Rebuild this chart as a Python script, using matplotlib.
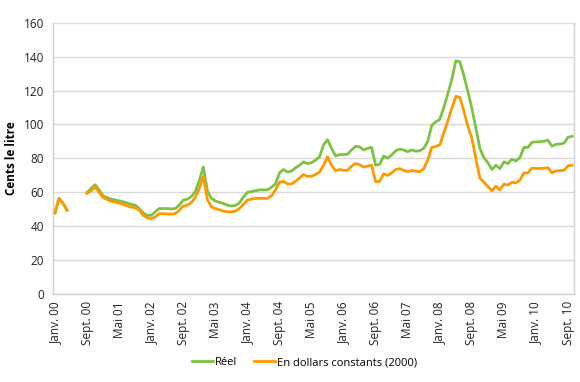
import numpy as np
import matplotlib
matplotlib.use("Agg")
import matplotlib.pyplot as plt

nan = np.nan
reel = [
    48, 56.5, 53.5, 49.5, nan, nan, nan, nan, 60, 62.3, 64.5, 61.5,
    58, 57, 56, 55.5, 55, 54.5, 53.8, 53, 52.5, 50.5, 48, 46.5,
    46.5, 48.5, 50.5, 50.5, 50.5, 50.3, 50.5, 52.5, 55.5, 56, 57.5, 60.5,
    67, 75, 61, 56.5, 55, 54.2, 53.5, 52.5, 52, 52.3, 53.8, 57.2,
    60, 60.5, 61, 61.5, 61.5, 61.5, 63, 65, 71.5, 73.5, 72, 72.5,
    74.5, 76, 78, 77, 77.5, 79, 81, 88, 91, 86, 81.5, 82.3,
    82.3, 82.5, 85, 87.2, 86.8, 85, 86, 86.5, 76, 76.5, 81.4, 80.2,
    82, 84.5, 85.5, 85, 84, 85, 84.3, 84.5, 86, 90, 99.5, 101.5,
    103, 110, 118, 126.5, 137.5, 137, 129, 119.5, 109.5, 98, 86, 80.5,
    77.5, 73.5, 76, 74, 78, 77, 79.5, 78.5, 80.5, 86.5, 86.5, 89.5,
    89.8, 89.8, 90.2, 90.7, 87.2, 88.3, 88.5, 89, 92.5, 93,
]
constants = [
    48, 56.5, 53.5, 49.5, nan, nan, nan, nan, 59.4, 61, 63.3, 60,
    57, 55.8, 54.8, 54.3, 53.7, 53, 52, 51.3, 51, 49.5, 46.5, 45,
    44.5, 45.5, 47.5, 47.5, 47.3, 47.2, 47.5, 49.5, 52, 52.5, 54, 57,
    62.5, 69.2, 56, 51.5, 50.5, 49.8, 49, 48.6, 48.5, 49, 50.5, 53,
    55.5, 56, 56.5, 56.5, 56.5, 56.5, 58, 61.5, 66, 66.5, 65, 65,
    66.5, 68.5, 70.5, 69.5, 69.5, 70.5, 72, 76, 81, 76, 72.7, 73.5,
    73, 73, 75.5, 77, 76.3, 75, 75.5, 76, 66.3, 66.5, 71, 70,
    71.5, 73.5, 74, 73, 72.2, 73, 72.5, 72.2, 74, 79, 86.5, 87,
    88, 95, 102, 109.5, 116.6, 116, 108, 99, 92, 80, 68.5, 66,
    63.5, 61, 63.7, 61.4, 64.9, 64.3, 66, 65.6, 67.2, 71.5, 71.5, 74.3,
    74.1, 74.1, 74.3, 74.5, 71.5, 72.7, 72.8, 73, 75.7, 76,
]
tick_labels = ["Janv. 00", "Sept. 00", "Mai 01", "Janv. 02", "Sept. 02", "Mai 03",
               "Janv. 04", "Sept. 04", "Mai 05", "Janv. 06", "Sept. 06", "Mai 07",
               "Janv. 08", "Sept. 08", "Mai 09", "Janv. 10", "Sept. 10"]
yticks = [0, 20, 40, 60, 80, 100, 120, 140, 160]

plt.rcParams['font.family'] = ['Open Sans', 'DejaVu Sans']

fig = plt.figure(figsize=(5.8, 3.82), dpi=100)
ax = fig.add_axes([0.0914, 0.2296, 0.8983, 0.7112])

x = np.arange(len(reel))
ax.plot(x, reel, color='#7DC242', lw=2, label='Réel', zorder=3)
ax.plot(x, constants, color='#FF9900', lw=2, label='En dollars constants (2000)', zorder=4)

ax.set_xlim(-0.5, len(reel) - 0.5)
ax.set_ylim(0, 160)
ax.set_yticks(yticks)
ax.set_xticks(np.arange(0, len(reel), 8))
ax.set_xticklabels(tick_labels, rotation=90, fontsize=8.5, color='#222222')
ax.tick_params(axis='y', labelsize=8.5, colors='#222222', length=0, pad=6.5)
ax.tick_params(axis='x', length=0, pad=5)
ax.grid(axis='y', color='#D9D9D9', lw=1)
ax.set_axisbelow(True)
for s in ['left', 'right', 'bottom']:
    ax.spines[s].set_color('#D0D0D0')
    ax.spines[s].set_linewidth(1)
ax.spines['top'].set_visible(False)

ax.set_ylabel('Cents le litre', fontsize=8.5, fontweight='bold')
ax.yaxis.set_label_coords(-0.068, 0.5)

fig.legend(loc='lower center', bbox_to_anchor=(0.525, 0.01), ncol=2, frameon=False,
           fontsize=8, handlelength=1.9, handletextpad=0.15, columnspacing=1.5)

fig.savefig('out.png', dpi=100)
